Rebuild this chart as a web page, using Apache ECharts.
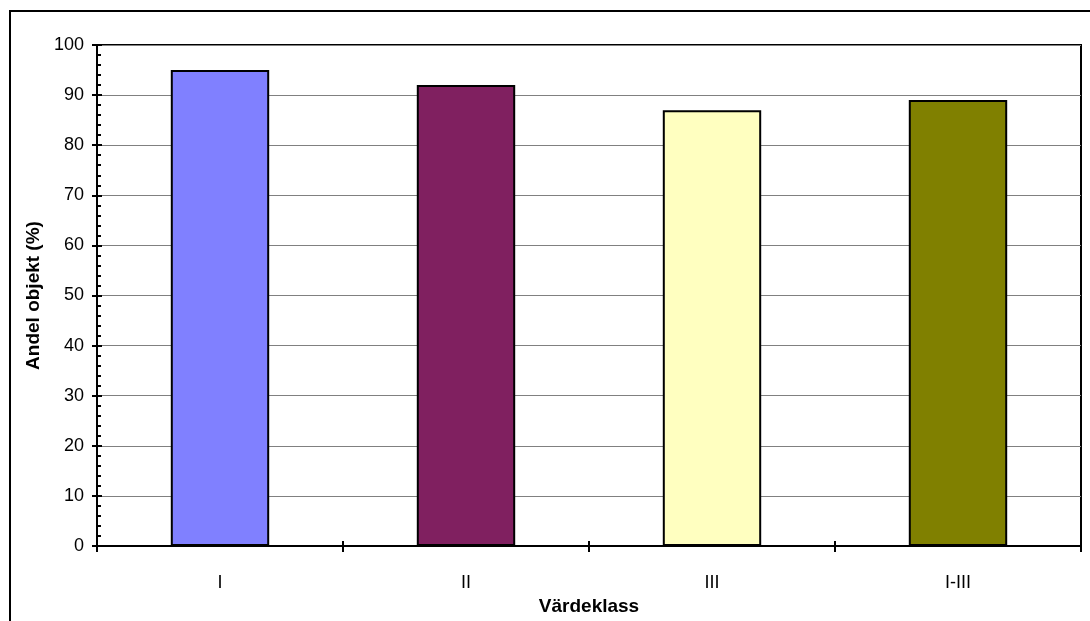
<!DOCTYPE html>
<html>
<head>
<meta charset="utf-8">
<script src="https://cdn.jsdelivr.net/npm/echarts@6/dist/echarts.min.js"></script>
<style>
  html, body { margin: 0; padding: 0; background: #fff; }
  #chart { width: 1090px; height: 621px; }
</style>
</head>
<body>
<div id="chart"></div>
<script>
// Share of objects per value class
const categories = ['I', 'II', 'III', 'I-III'];
const shareValues = [95, 92, 87, 89];
const barColors = ['#8080FF', '#802060', '#FFFFC0', '#808000'];
const yMin = 0, yMax = 100, yStep = 10;

const font = 'Arial, "Liberation Sans", sans-serif';

const chart = echarts.init(document.getElementById('chart'), null, { renderer: 'canvas' });

const yBase = {
  type: 'value', min: yMin, max: yMax, interval: yStep, position: 'left',
  axisLine: { show: true, onZero: false, lineStyle: { color: '#000', width: 2 } }
};
const xBase = {
  type: 'category', data: categories, position: 'bottom',
  axisLine: { show: true, onZero: false, lineStyle: { color: '#000', width: 2 } }
};

chart.setOption({
  animation: false,
  backgroundColor: '#fff',
  grid: {
    left: 97, right: 9, top: 45, bottom: 75,
    show: true, borderColor: '#000', borderWidth: 2, backgroundColor: 'transparent'
  },
  graphic: [{
    type: 'rect', silent: true, z: 100,
    shape: { x: 10, y: 11, width: 1200, height: 1000 },
    style: { fill: 'none', stroke: '#000', lineWidth: 2 }
  }],
  xAxis: [
    Object.assign({}, xBase, {
      name: 'Värdeklass', nameLocation: 'middle', nameGap: 47,
      nameTextStyle: { fontFamily: font, fontWeight: 'bold', fontSize: 19, color: '#000' },
      axisTick: { show: true, inside: false, length: 6, lineStyle: { color: '#000', width: 2 } },
      axisLabel: { fontFamily: font, fontSize: 18, color: '#000', margin: 28 },
      splitLine: { show: false }
    }),
    Object.assign({}, xBase, {
      axisTick: { show: true, inside: true, length: 5, lineStyle: { color: '#000', width: 2 } },
      axisLabel: { show: false },
      splitLine: { show: false }
    })
  ],
  yAxis: [
    Object.assign({}, yBase, {
      name: 'Andel objekt (%)', nameLocation: 'middle', nameGap: 47, nameRotate: 90,
      nameTextStyle: { fontFamily: font, fontWeight: 'bold', fontSize: 19, color: '#000' },
      axisTick: { show: true, inside: false, length: 5, lineStyle: { color: '#000', width: 2 } },
      axisLabel: { fontFamily: font, fontSize: 18, color: '#000', margin: 13 },
      splitLine: { show: true, lineStyle: { color: '#808080', width: 1 } }
    }),
    Object.assign({}, yBase, {
      axisTick: { show: true, inside: true, length: 5, lineStyle: { color: '#000', width: 2 } },
      minorTick: { show: true, splitNumber: 5, length: 4, lineStyle: { color: '#000', width: 2 } },
      axisLabel: { show: false },
      splitLine: { show: false }
    })
  ],
  series: [{
    type: 'bar',
    xAxisIndex: 0, yAxisIndex: 0,
    barWidth: '40%',
    data: shareValues.map((v, i) => ({
      value: v,
      itemStyle: { color: barColors[i], borderColor: '#000', borderWidth: 2 }
    }))
  }]
});
</script>
</body>
</html>
